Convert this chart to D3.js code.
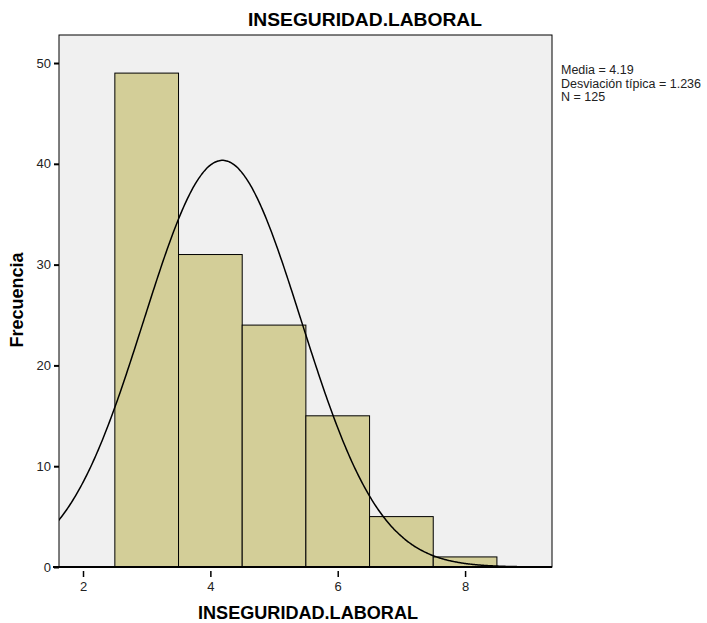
<!DOCTYPE html>
<html>
<head>
<meta charset="utf-8">
<script src="https://cdn.jsdelivr.net/npm/d3@7"></script>
<style>
  body { margin: 0; background: #fff; }
  text { font-family: "Liberation Sans", Arial, sans-serif; }
</style>
</head>
<body>
<div id="chart"></div>
<script>
// histogram bins (bin centre) and counts
let binCenters = [3, 4, 5, 6, 7, 8];
let binCounts = [49, 31, 24, 15, 5, 1];
let xTicks = [2, 4, 6, 8];
let yTicks = [0, 10, 20, 30, 40, 50];
let statLines = ["Media = 4.19", "Desviación típica = 1.236", "N = 125"];
let mean = 4.19, sd = 1.236, n = 125;

let width = 707, height = 623;
let plotLeft = 59, plotRight = 552, plotTop = 35, plotBottom = 567;

let svg = d3.select("#chart").append("svg")
    .attr("width", width)
    .attr("height", height);

let xScale = d3.scaleLinear().domain([1.623, 9.365]).range([plotLeft, plotRight]);
let yScale = d3.scaleLinear().domain([0, 52.78]).range([plotBottom, plotTop]);

// plot background
svg.append("rect")
    .attr("x", plotLeft).attr("y", plotTop)
    .attr("width", plotRight - plotLeft).attr("height", plotBottom - plotTop)
    .attr("fill", "#f0f0f0")
    .attr("stroke", "#000").attr("stroke-width", 1);

svg.append("clipPath").attr("id", "clip")
    .append("rect")
    .attr("x", plotLeft).attr("y", plotTop)
    .attr("width", plotRight - plotLeft).attr("height", plotBottom - plotTop);

// bars
svg.selectAll(".bar")
    .data(binCenters)
    .enter()
    .append("rect")
    .attr("class", "bar")
    .attr("x", (d) => xScale(d - 0.5))
    .attr("width", (d) => xScale(d + 0.5) - xScale(d - 0.5))
    .attr("y", (d, i) => yScale(binCounts[i]))
    .attr("height", (d, i) => yScale(0) - yScale(binCounts[i]))
    .attr("fill", "#d3ce98")
    .attr("stroke", "#000")
    .attr("stroke-width", 1);

// normal curve from the stats
let curvePts = d3.range(1.5, 9.5, 0.02).map((x) => {
    let z = (x - mean) / sd;
    return [x, n / (sd * Math.sqrt(2 * Math.PI)) * Math.exp(-0.5 * z * z)];
});
let line = d3.line()
    .x((d) => xScale(d[0]))
    .y((d) => yScale(d[1]))
    .curve(d3.curveBasis);

svg.append("path")
    .attr("d", line(curvePts))
    .attr("clip-path", "url(#clip)")
    .attr("fill", "none")
    .attr("stroke", "#000")
    .attr("stroke-width", 1.5);

// y-axis
let yAxis = d3.axisLeft(yScale).tickValues(yTicks).tickSize(5).tickPadding(3);
let gy = svg.append("g")
    .attr("transform", "translate(" + plotLeft + ",0)")
    .call(yAxis);
gy.select(".domain").remove();
gy.selectAll(".tick line").attr("stroke-width", 2);
gy.selectAll("text").attr("font-size", 13).attr("fill", "#222")
    .attr("font-family", "Liberation Sans, Arial, sans-serif");

// x-axis
let xAxis = d3.axisBottom(xScale).tickValues(xTicks).tickSize(6).tickPadding(5);
let gx = svg.append("g")
    .attr("transform", "translate(0," + (plotBottom + 4) + ")")
    .call(xAxis);
gx.select(".domain").remove();
gx.selectAll(".tick line").attr("stroke-width", 1.5);
gx.selectAll("text").attr("font-size", 13).attr("fill", "#222")
    .attr("font-family", "Liberation Sans, Arial, sans-serif");

svg.append("line")
    .attr("x1", plotLeft - 6).attr("x2", plotRight)
    .attr("y1", plotBottom).attr("y2", plotBottom)
    .attr("stroke", "#000").attr("stroke-width", 2);

// titles
svg.append("text")
    .attr("x", 365).attr("y", 26)
    .attr("text-anchor", "middle")
    .attr("font-size", 19).attr("font-weight", "bold")
    .attr("textLength", 234).attr("lengthAdjust", "spacingAndGlyphs")
    .text("INSEGURIDAD.LABORAL");

svg.append("text")
    .attr("x", 308).attr("y", 619)
    .attr("text-anchor", "middle")
    .attr("font-size", 18).attr("font-weight", "bold")
    .attr("textLength", 220).attr("lengthAdjust", "spacingAndGlyphs")
    .text("INSEGURIDAD.LABORAL");

svg.append("text")
    .attr("text-anchor", "middle")
    .attr("font-size", 18).attr("font-weight", "bold")
    .attr("transform", "translate(23,300) rotate(-90)")
    .text("Frecuencia");

// stats box
svg.selectAll(".stat")
    .data(statLines)
    .enter()
    .append("text")
    .attr("class", "stat")
    .attr("x", 561)
    .attr("y", (d, i) => 74 + i * 13.5)
    .attr("font-size", 12.5)
    .attr("fill", "#222")
    .text((d) => d);
</script>
</body>
</html>
